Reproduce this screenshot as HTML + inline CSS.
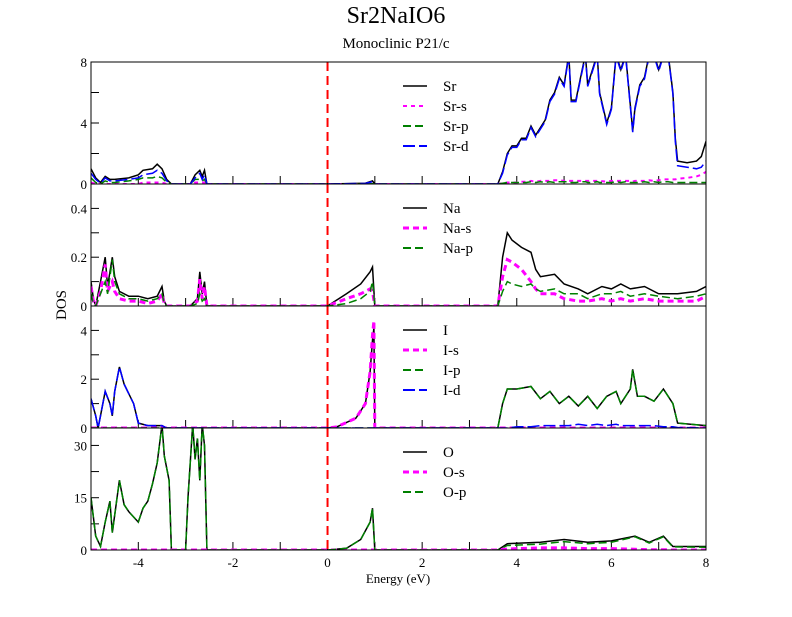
<!DOCTYPE html>
<html><head><meta charset="utf-8"><style>
body{margin:0;background:#fff}
svg text{font-family:"Liberation Serif",serif;fill:#000}
</style></head><body>
<svg id="c" width="792" height="612" viewBox="0 0 792 612" xmlns="http://www.w3.org/2000/svg">
<rect width="792" height="612" fill="#fff"/>
<text x="396" y="23" font-size="24" text-anchor="middle">Sr2NaIO6</text>
<text x="396" y="48" font-size="15" text-anchor="middle">Monoclinic P21/c</text>
<text transform="translate(66,305) rotate(-90)" font-size="15" text-anchor="middle">DOS</text>
<text x="398" y="583" font-size="13" text-anchor="middle">Energy (eV)</text>
<g id="plots"></g>
</svg>
<script>
// ---- data ----
const srE=[-5,-4.9,-4.8,-4.7,-4.6,-4.5,-4.2,-4,-3.9,-3.7,-3.6,-3.5,-3.4,-3.3,-2.9,-2.8,-2.7,-2.65,-2.6,-2.55,0,0.8,0.95,1.0,3.6,3.7,3.8,3.9,4.0,4.1,4.2,4.3,4.4,4.5,4.6,4.7,4.8,4.9,5.0,5.1,5.15,5.25,5.35,5.45,5.5,5.6,5.7,5.75,5.9,6.0,6.1,6.2,6.3,6.4,6.45,6.5,6.6,6.7,6.8,6.9,7.0,7.1,7.2,7.3,7.35,7.4,7.6,7.8,7.9,8];
const srTot=[1.0,0.4,0.1,0.5,0.3,0.3,0.4,0.6,0.9,1.0,1.3,1.0,0.3,0,0,0.6,0.9,0.5,0.9,0,0,0.05,0.2,0,0,0.8,2.0,2.5,2.5,3.0,3.0,3.8,3.2,3.7,4.2,5.5,6.0,7.0,6.5,8.5,5.5,5.5,7,8.5,6.5,7.5,8.5,6.0,4.0,5.0,8.5,7.5,8.5,5.2,3.5,5,6.5,7,8.5,8.5,7.5,8.5,8.5,6,3.0,1.5,1.4,1.5,1.8,2.8];
const srD=[0.7,0.3,0.05,0.4,0.2,0.2,0.3,0.4,0.6,0.7,0.9,0.7,0.2,0,0,0.4,0.7,0.3,0.6,0,0,0.04,0.15,0,0,0.7,1.9,2.4,2.4,2.9,2.9,3.7,3.1,3.6,4.1,5.4,5.9,6.9,6.4,8.4,5.4,5.4,6.9,8.4,6.4,7.4,8.4,5.9,3.9,4.9,8.4,7.4,8.4,5.1,3.4,4.9,6.4,6.9,8.4,8.4,7.4,8.4,8.4,5.9,2.8,1.2,1.1,1.0,1.1,1.5];
const srP=[0.4,0.1,0,0.2,0.1,0.1,0.2,0.3,0.4,0.4,0.5,0.4,0.1,0,0,0.3,0.3,0.2,0.3,0,0,0,0.02,0,0,0.05,0.1,0.1,0.1,0.1,0.1,0.15,0.1,0.15,0.1,0.15,0.1,0.15,0.15,0.15,0.1,0.1,0.15,0.15,0.1,0.1,0.15,0.1,0.1,0.1,0.15,0.1,0.15,0.1,0.1,0.1,0.1,0.15,0.1,0.15,0.1,0.15,0.15,0.1,0.1,0.1,0.1,0.1,0.1,0.1];
const srS=[0.1,0,0,0,0,0,0,0,0.1,0.1,0.1,0.1,0,0,0,0.1,0.1,0.1,0.1,0,0,0,0,0,0,0.05,0.1,0.1,0.1,0.15,0.15,0.2,0.15,0.2,0.2,0.2,0.25,0.25,0.2,0.2,0.2,0.2,0.2,0.2,0.2,0.2,0.2,0.2,0.15,0.2,0.2,0.2,0.2,0.2,0.15,0.2,0.2,0.2,0.25,0.2,0.25,0.3,0.3,0.3,0.3,0.35,0.4,0.5,0.6,0.8];

const naE=[-5,-4.95,-4.9,-4.8,-4.7,-4.65,-4.55,-4.5,-4.4,-4.2,-4,-3.8,-3.6,-3.5,-3.45,-3.4,-2.9,-2.75,-2.7,-2.65,-2.6,-2.55,0,0.4,0.7,0.9,0.95,1.0,3.6,3.7,3.8,3.9,4.1,4.3,4.4,4.5,4.8,5,5.3,5.5,5.8,6,6.2,6.4,6.7,7,7.4,7.8,8];
const naTot=[0.1,0.03,0,0.1,0.2,0.08,0.2,0.12,0.06,0.04,0.04,0.03,0.04,0.08,0.02,0,0,0.03,0.14,0.05,0.1,0,0,0.05,0.09,0.14,0.16,0,0,0.2,0.3,0.27,0.24,0.22,0.15,0.12,0.13,0.09,0.07,0.05,0.08,0.07,0.09,0.07,0.08,0.05,0.05,0.06,0.08];
const naS=[0.08,0.02,0,0.06,0.17,0.06,0.1,0.06,0.03,0.02,0.02,0.01,0.02,0.05,0.01,0,0,0.02,0.11,0.03,0.08,0,0,0.03,0.05,0.07,0.06,0,0,0.12,0.19,0.18,0.15,0.1,0.07,0.05,0.05,0.03,0.02,0.02,0.03,0.02,0.03,0.02,0.03,0.02,0.02,0.02,0.04];
const naP=[0.05,0.01,0,0.05,0.1,0.05,0.19,0.1,0.05,0.03,0.03,0.02,0.03,0.05,0.01,0,0,0.01,0.05,0.02,0.03,0,0,0.01,0.03,0.06,0.1,0,0,0.06,0.1,0.09,0.08,0.09,0.07,0.06,0.07,0.05,0.05,0.03,0.05,0.05,0.06,0.04,0.05,0.04,0.03,0.04,0.05];

const iE=[-5,-4.9,-4.85,-4.8,-4.7,-4.6,-4.55,-4.5,-4.4,-4.3,-4.1,-4.0,-3.8,-3.5,-3.4,0,0.2,0.6,0.8,0.9,0.95,0.98,1.0,1.05,3.6,3.7,3.8,4.0,4.3,4.5,4.7,4.9,5.1,5.3,5.5,5.7,5.9,6.1,6.2,6.4,6.45,6.55,6.7,6.9,7.1,7.3,7.4,8];
const iTot=[1.2,0.5,0,0.5,1.5,1.0,0.5,1.5,2.5,1.8,1.0,0.2,0.1,0.1,0,0,0.05,0.4,1.0,2.3,3.6,4.1,0,0,0,1.0,1.6,1.6,1.7,1.2,1.5,1.0,1.3,0.9,1.3,0.8,1.3,1.5,1.0,1.6,2.4,1.3,1.3,1.1,1.6,1.0,0.2,0.1];
const iS=[0,0,0,0,0,0,0,0,0,0,0,0,0,0,0,0,0.05,0.4,1.0,2.3,3.8,4.4,0,0,0,0,0,0,0,0,0,0,0,0,0,0,0,0,0,0,0,0,0,0,0,0,0,0];
const iP=[0,0,0,0,0,0,0,0,0,0,0,0,0,0,0,0,0,0,0,0,0,0,0,0,0,1.0,1.6,1.6,1.7,1.2,1.5,1.0,1.3,0.9,1.3,0.8,1.3,1.5,1.0,1.6,2.4,1.3,1.3,1.1,1.6,1.0,0.2,0.1];
const iD=[1.2,0.5,0,0.5,1.5,1.0,0.5,1.5,2.5,1.8,1.0,0.2,0.1,0.1,0,0,0,0,0,0,0,0,0,0,0,0,0,0.05,0.05,0.1,0.1,0.1,0.1,0.15,0.1,0.15,0.1,0.15,0.1,0.1,0.1,0.1,0.1,0.1,0.05,0.05,0.02,0];

const oE=[-5,-4.9,-4.8,-4.7,-4.6,-4.55,-4.5,-4.4,-4.3,-4.2,-4,-3.9,-3.8,-3.7,-3.6,-3.5,-3.45,-3.35,-3.3,-3.0,-2.95,-2.85,-2.8,-2.75,-2.7,-2.65,-2.6,-2.55,0,0.4,0.7,0.9,0.95,1.0,3.6,3.8,4.5,5,5.5,6,6.5,6.8,7.1,7.3,8];
const oTot=[15,4,1,8,14,5,10,20,13,11,8,12,14,19,25,36,27,20,0,0,15,36,26,32,20,36,30,0,0,0.5,3,8,12,0,0,1.8,2.2,3,2.2,2.6,4,2.2,4,1,1];
const oS=[0,0,0,0,0,0,0,0,0,0,0,0,0,0,0,0,0,0,0,0,0,0,0,0,0,0,0,0,0,0,0,0,0,0,0,0.3,0.6,0.6,0.4,0.4,0.2,0.1,0.1,0,0];
const oP=[15,4,1,8,14,5,10,20,13,11,8,12,14,19,25,36,27,20,0,0,15,36,26,32,20,36,30,0,0,0.5,3,8,12,0,0,1.3,1.7,2.4,1.8,2.2,3.8,2.0,3.8,0.9,0.8];

const xTicks=[-5,-4,-3,-2,-1,0,1,2,3,4,5,6,7,8];
const xLabels=[-4,-2,0,2,4,6,8];

// ---- layout ----
const X0=91,X1=706,XMIN=-5,XMAX=8;
const sx=e=>X0+(e-XMIN)/(XMAX-XMIN)*(X1-X0);
const panels=[
 {name:'sr',top:62,max:8,tick:2,labels:[0,4,8],leg:[['Sr','#000',''],['Sr-s','#ff00ff','4,4'],['Sr-p','#008000','8,4'],['Sr-d','#0000ff','12,4']],
  series:[[srE,srTot],[srE,srS],[srE,srP],[srE,srD]],lw:[1.5,2,1.5,1.5]},
 {name:'na',top:184,max:0.5,tick:0.1,labels:[0,0.2,0.4],leg:[['Na','#000',''],['Na-s','#ff00ff','6,4'],['Na-p','#008000','8,4']],
  series:[[naE,naTot],[naE,naS],[naE,naP]],lw:[1.5,3,1.5]},
 {name:'i',top:306,max:5,tick:1,labels:[0,2,4],leg:[['I','#000',''],['I-s','#ff00ff','6,4'],['I-p','#008000','8,4'],['I-d','#0000ff','12,4']],
  series:[[iE,iTot],[iE,iS],[iE,iP],[iE,iD]],lw:[1.5,3,1.5,1.5]},
 {name:'o',top:428,max:35,tick:7.5,labels:[0,15,30],leg:[['O','#000',''],['O-s','#ff00ff','6,4'],['O-p','#008000','8,4']],
  series:[[oE,oTot],[oE,oS],[oE,oP]],lw:[1.5,3,1.5]}
];
const H=122,NS='http://www.w3.org/2000/svg';
const root=document.getElementById('plots');
function mk(t,a,p){const e=document.createElementNS(NS,t);for(const k in a)e.setAttribute(k,a[k]);(p||root).appendChild(e);return e;}
panels.forEach((P,pi)=>{
  const g=mk('g',{});
  
  
  const sy=v=>P.top+H-v/P.max*H;
  const cp=mk('clipPath',{id:'cp'+pi},g);mk('rect',{x:X0,y:P.top,width:X1-X0,height:H},cp);
  // ticks
  xTicks.forEach(t=>{const l=mk('line',{x1:sx(t),x2:sx(t),y1:P.top+H,y2:P.top+H-8,stroke:'#000','stroke-width':1},g);
    });
  for(let v=0;v<=P.max+1e-9;v+=P.tick){const l=mk('line',{x1:X0,x2:X0+8,y1:sy(v),y2:sy(v),stroke:'#000','stroke-width':1},g);
    }
  P.labels.forEach(v=>{const t=mk('text',{x:X0-4,y:sy(v)+5,'font-size':13,'text-anchor':'end'},g);t.textContent=String(v);
    });
  // series
  const sg=mk('g',{'clip-path':'url(#cp'+pi+')'},g);
  P.series.forEach((s,si)=>{const [E,V]=s;const pts=E.map((e,i)=>sx(e).toFixed(1)+','+sy(V[i]).toFixed(1)).join(' ');
    const L=P.leg[si];const a={points:pts,fill:'none',stroke:L[1],'stroke-width':P.lw[si]};if(L[2])a['stroke-dasharray']=L[2];
    const pl=mk('polyline',a,sg);});
  // fermi line
  const fl=mk('line',{x1:sx(0),x2:sx(0),y1:P.top,y2:P.top+H,stroke:'#ff0000','stroke-width':2,'stroke-dasharray':'9,5'},g);
  
  // frame
  const fr=mk('rect',{x:X0,y:P.top,width:X1-X0,height:H,fill:'none',stroke:'#000','stroke-width':1},g);
  
  // legend
  P.leg.forEach((L,li)=>{const y=P.top+24+li*20;
    const eg=mk('g',{},g);
    const a={x1:403,x2:427,y1:y,y2:y,stroke:L[1],'stroke-width':li===0?1.5:(pi===0&&li===1?2:(li===1?3:2))};if(L[2])a['stroke-dasharray']=L[2];
    mk('line',a,eg);const t=mk('text',{x:443,y:y+5,'font-size':15},eg);t.textContent=L[0];});
});
// x labels
xLabels.forEach(v=>{const t=mk('text',{x:sx(v),y:567,'font-size':13,'text-anchor':'middle'});t.textContent=String(v);
  });
</script>
</body></html>
